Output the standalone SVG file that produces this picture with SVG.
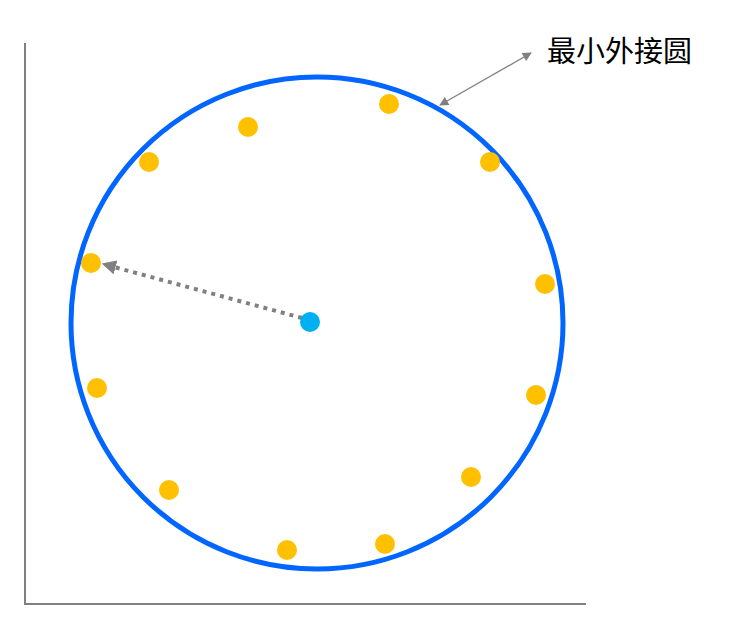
<svg xmlns="http://www.w3.org/2000/svg" width="739" height="622" viewBox="0 0 739 622">
<defs>
<style>
.pt{fill:#FFC000}
.axis{stroke:#808080;stroke-width:2;fill:none}
</style>
<marker id="ah" viewBox="0 0 10 10" refX="9" refY="5" markerWidth="8" markerHeight="7" orient="auto-start-reverse" markerUnits="strokeWidth"><path d="M0,0 L10,5 L0,10 z" fill="#808080"/></marker>
<marker id="ah2" viewBox="0 0 10 10" refX="9" refY="5" markerWidth="3.6" markerHeight="3.6" orient="auto" markerUnits="strokeWidth"><path d="M0,0 L10,5 L0,10 z" fill="#808080"/></marker>
</defs>
<rect width="739" height="622" fill="#fff"/>
<g id="axes">
<line class="axis" x1="25" y1="43" x2="25" y2="604"/>
<line class="axis" x1="24" y1="604" x2="586" y2="604"/>
</g>
<g id="circle"><circle cx="317" cy="323" r="246" fill="none" stroke="#0066FF" stroke-width="5"/></g>
<g id="points">
<circle class="pt" cx="389" cy="104" r="10"/>
<circle class="pt" cx="248" cy="127" r="10"/>
<circle class="pt" cx="149" cy="162" r="10"/>
<circle class="pt" cx="490" cy="162" r="10"/>
<circle class="pt" cx="545" cy="284" r="10"/>
<circle class="pt" cx="91" cy="263" r="10"/>
<circle class="pt" cx="97" cy="388" r="10"/>
<circle class="pt" cx="536" cy="395" r="10"/>
<circle class="pt" cx="471" cy="477" r="10"/>
<circle class="pt" cx="169" cy="490" r="10"/>
<circle class="pt" cx="287" cy="550" r="10"/>
<circle class="pt" cx="385" cy="544" r="10"/>
</g>
<g id="connectors">
<line x1="302" y1="318" x2="103" y2="264" stroke="#808080" stroke-width="4" stroke-dasharray="4 5" marker-end="url(#ah2)"/>
<line x1="440" y1="105" x2="531" y2="53" stroke="#808080" stroke-width="1.3" marker-start="url(#ah)" marker-end="url(#ah)"/>
</g>
<g id="center"><circle cx="310" cy="322" r="10" fill="#00B0F0"/></g>
<g id="label"><text x="547" y="62" font-family="'Liberation Sans','Noto Sans CJK SC',sans-serif" font-size="29" fill="#000">最小外接圆</text></g>
</svg>
